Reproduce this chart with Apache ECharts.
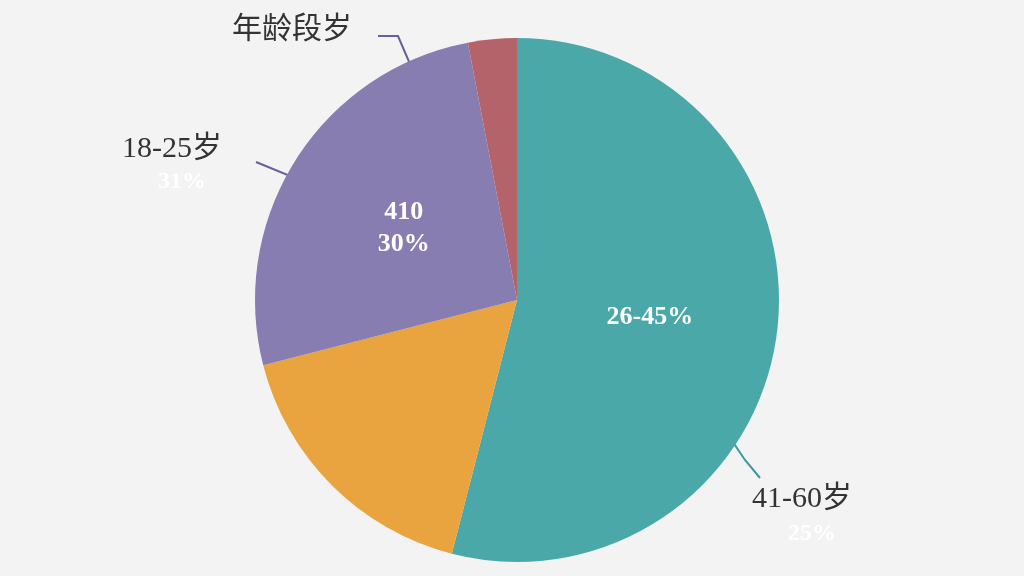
<!DOCTYPE html>
<html><head><meta charset="utf-8">
<script src="https://cdn.jsdelivr.net/npm/echarts@6/dist/echarts.min.js"></script>
<style>html,body{margin:0;background:#f3f3f3}#c{width:1024px;height:576px}</style>
</head><body><div id="c"></div>
<script>
const categories = ['26-45岁', '46-60岁', '18-25岁', '其他'];
const values = [54, 17, 26, 3];
const insideLabels = ['26-45%', '', '410\n30%', ''];
const colors = ['#4ba8a8', '#e9a43f', '#887db0', '#b4636b'];

const chart = echarts.init(document.getElementById('c'));
const ft = '"Liberation Serif", "Noto Sans CJK SC", serif';
chart.setOption({
  backgroundColor: '#f3f3f3',
  series: [{
    type: 'pie', radius: 262, center: [517, 300], startAngle: 90,
    data: categories.map((n, i) => ({
      name: n, value: values[i], itemStyle: {color: colors[i]},
      label: {show: !!insideLabels[i], formatter: insideLabels[i]}
    })),
    label: {position: 'inside', color: '#fff', fontSize: 26, fontWeight: 'bold', fontFamily: ft, lineHeight: 32},
    labelLine: {show: false}
  }],
  graphic: [
    {type: 'text', left: 232, top: 12, style: {text: '年龄段岁', font: '30px "Noto Sans CJK SC"', fill: '#333'}},
    {type: 'polyline', shape: {points: [[378, 36], [398, 36], [410, 64]]}, style: {stroke: '#6a5d9a', lineWidth: 2}},
    {type: 'text', left: 122, top: 134, style: {text: '18-25岁', font: '30px ' + ft, fill: '#333'}},
    {type: 'text', left: 158, top: 170, style: {text: '31%', font: 'bold 24px ' + ft, fill: '#fff'}},
    {type: 'polyline', shape: {points: [[256, 162], [300, 180], [325, 205]]}, style: {stroke: '#6a5d9a', lineWidth: 2}},
    {type: 'text', left: 752, top: 484, style: {text: '41-60岁', font: '30px ' + ft, fill: '#333'}},
    {type: 'text', left: 788, top: 522, style: {text: '25%', font: 'bold 24px ' + ft, fill: '#fff'}},
    {type: 'polyline', shape: {points: [[718, 420], [745, 460], [760, 478]]}, style: {stroke: '#3a9a9a', lineWidth: 2}}
  ]
});
</script></body></html>
